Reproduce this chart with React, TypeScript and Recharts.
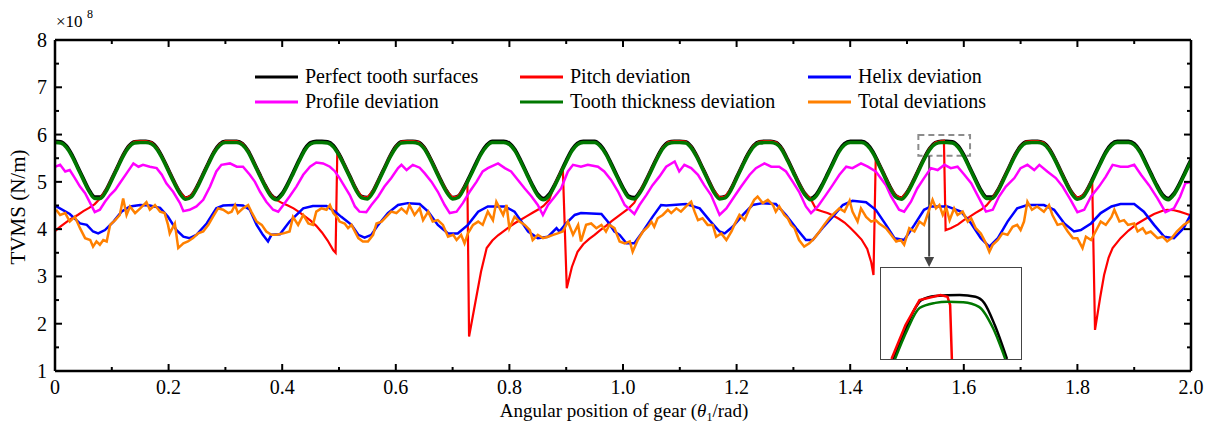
import React from 'react';
import { LineChart, Line, XAxis, YAxis, ReferenceArea, ReferenceLine, ReferenceDot } from 'recharts';

const FONT = '"Liberation Serif", "Times New Roman", serif';

// angular position grid shared by the two smooth curves (0 .. 2 rad, step 0.01)
const xGrid = Array.from({ length: 201 }, (_, i) => i / 100);

// TVMS, x 1e8 N/m
const perfectY = [
  5.86, 5.85, 5.76, 5.57, 5.32, 5.07, 4.83, 4.68, 4.68, 4.83,
  5.07, 5.32, 5.57, 5.76, 5.85, 5.86, 5.86, 5.83, 5.71, 5.5,
  5.25, 5.0, 4.78, 4.66, 4.71, 4.9, 5.15, 5.4, 5.64, 5.8,
  5.86, 5.86, 5.86, 5.81, 5.66, 5.42, 5.17, 4.93, 4.73, 4.65,
  4.76, 4.97, 5.22, 5.47, 5.7, 5.83, 5.86, 5.86, 5.85, 5.77,
  5.59, 5.35, 5.1, 4.85, 4.69, 4.67, 4.81, 5.05, 5.3, 5.55,
  5.75, 5.85, 5.86, 5.86, 5.84, 5.73, 5.52, 5.27, 5.02, 4.8,
  4.67, 4.7, 4.88, 5.12, 5.37, 5.61, 5.78, 5.86, 5.86, 5.86,
  5.82, 5.68, 5.45, 5.2, 4.95, 4.74, 4.65, 4.74, 4.95, 5.2,
  5.45, 5.68, 5.82, 5.86, 5.86, 5.86, 5.78, 5.61, 5.37, 5.12,
  4.88, 4.7, 4.67, 4.8, 5.02, 5.27, 5.52, 5.73, 5.84, 5.86,
  5.86, 5.85, 5.75, 5.55, 5.3, 5.05, 4.81, 4.67, 4.69, 4.85,
  5.1, 5.35, 5.59, 5.77, 5.85, 5.86, 5.86, 5.83, 5.7, 5.47,
  5.22, 4.97, 4.76, 4.65, 4.73, 4.93, 5.17, 5.42, 5.66, 5.81,
  5.86, 5.86, 5.86, 5.8, 5.64, 5.4, 5.15, 4.9, 4.71, 4.66,
  4.78, 5.0, 5.25, 5.5, 5.71, 5.83, 5.86, 5.86, 5.85, 5.76,
  5.57, 5.32, 5.07, 4.83, 4.68, 4.68, 4.83, 5.07, 5.32, 5.57,
  5.76, 5.85, 5.86, 5.86, 5.83, 5.71, 5.5, 5.25, 5.0, 4.78,
  4.66, 4.71, 4.9, 5.15, 5.4, 5.64, 5.8, 5.86, 5.86, 5.86,
  5.81, 5.66, 5.42, 5.17, 4.93, 4.73, 4.65, 4.76, 4.97, 5.22,
  5.47,
];

const thicknessY = [
  5.83, 5.82, 5.73, 5.54, 5.29, 5.04, 4.8, 4.65, 4.65, 4.8,
  5.04, 5.29, 5.54, 5.73, 5.82, 5.83, 5.83, 5.8, 5.68, 5.47,
  5.22, 4.97, 4.75, 4.63, 4.68, 4.87, 5.12, 5.37, 5.61, 5.77,
  5.83, 5.83, 5.83, 5.78, 5.63, 5.39, 5.14, 4.9, 4.7, 4.62,
  4.73, 4.94, 5.19, 5.44, 5.67, 5.8, 5.83, 5.83, 5.82, 5.74,
  5.56, 5.32, 5.07, 4.82, 4.66, 4.64, 4.78, 5.02, 5.27, 5.52,
  5.72, 5.82, 5.83, 5.83, 5.81, 5.7, 5.49, 5.24, 4.99, 4.77,
  4.64, 4.67, 4.85, 5.09, 5.34, 5.58, 5.75, 5.83, 5.83, 5.83,
  5.79, 5.65, 5.42, 5.17, 4.92, 4.71, 4.62, 4.71, 4.92, 5.17,
  5.42, 5.65, 5.79, 5.83, 5.83, 5.83, 5.75, 5.58, 5.34, 5.09,
  4.85, 4.67, 4.64, 4.77, 4.99, 5.24, 5.49, 5.7, 5.81, 5.83,
  5.83, 5.82, 5.72, 5.52, 5.27, 5.02, 4.78, 4.64, 4.66, 4.82,
  5.07, 5.32, 5.56, 5.74, 5.82, 5.83, 5.83, 5.8, 5.67, 5.44,
  5.19, 4.94, 4.73, 4.62, 4.7, 4.9, 5.14, 5.39, 5.63, 5.78,
  5.83, 5.83, 5.83, 5.77, 5.61, 5.37, 5.12, 4.87, 4.68, 4.63,
  4.75, 4.97, 5.22, 5.47, 5.68, 5.8, 5.83, 5.83, 5.82, 5.73,
  5.54, 5.29, 5.04, 4.8, 4.65, 4.65, 4.8, 5.04, 5.29, 5.54,
  5.73, 5.82, 5.83, 5.83, 5.8, 5.68, 5.47, 5.22, 4.97, 4.75,
  4.63, 4.68, 4.87, 5.12, 5.37, 5.61, 5.77, 5.83, 5.83, 5.83,
  5.78, 5.63, 5.39, 5.14, 4.9, 4.7, 4.62, 4.73, 4.94, 5.19,
  5.44,
];

const pitch: [number, number][] = [
  [0, 3.96], [0.01, 4.06], [0.02, 4.15], [0.03, 4.23], [0.04, 4.3], [0.05, 4.38], [0.06, 4.45], [0.07, 4.53], [0.08, 4.66], [0.09, 4.83],
  [0.1, 5.07], [0.11, 5.32], [0.12, 5.57], [0.13, 5.76], [0.14, 5.85], [0.15, 5.86], [0.16, 5.86], [0.17, 5.83], [0.18, 5.71], [0.19, 5.5],
  [0.2, 5.25], [0.21, 5.0], [0.22, 4.78], [0.23, 4.66], [0.24, 4.71], [0.25, 4.9], [0.26, 5.15], [0.27, 5.4], [0.28, 5.64], [0.29, 5.8],
  [0.3, 5.86], [0.31, 5.86], [0.32, 5.86], [0.33, 5.81], [0.34, 5.66], [0.35, 5.42], [0.36, 5.17], [0.37, 4.93], [0.38, 4.73], [0.39, 4.62],
  [0.4, 4.55], [0.41, 4.5], [0.42, 4.44], [0.43, 4.36], [0.44, 4.27], [0.45, 4.18], [0.46, 4.07], [0.47, 3.93], [0.48, 3.76], [0.49, 3.55],
  [0.494, 3.5], [0.497, 5.64], [0.5, 5.59], [0.51, 5.35], [0.52, 5.1], [0.53, 4.85], [0.54, 4.69], [0.55, 4.67], [0.56, 4.81], [0.57, 5.05],
  [0.58, 5.3], [0.59, 5.55], [0.6, 5.75], [0.61, 5.85], [0.62, 5.86], [0.63, 5.86], [0.64, 5.84], [0.65, 5.73], [0.66, 5.52], [0.67, 5.27],
  [0.68, 5.02], [0.69, 4.8], [0.7, 4.67], [0.71, 4.7], [0.72, 4.88], [0.726, 5.02], [0.729, 1.73], [0.74, 2.45], [0.75, 3.1], [0.76, 3.6],
  [0.77, 3.76], [0.78, 3.87], [0.79, 3.96], [0.8, 4.05], [0.81, 4.13], [0.82, 4.2], [0.83, 4.27], [0.84, 4.34], [0.85, 4.41], [0.86, 4.49],
  [0.87, 4.62], [0.88, 4.95], [0.89, 5.2], [0.894, 5.3], [0.901, 2.75], [0.91, 3.2], [0.92, 3.52], [0.93, 3.68], [0.94, 3.79], [0.95, 3.88],
  [0.96, 3.98], [0.97, 4.07], [0.98, 4.17], [0.99, 4.26], [1.0, 4.35], [1.01, 4.44], [1.02, 4.56], [1.03, 4.8], [1.04, 5.02], [1.05, 5.27],
  [1.06, 5.52], [1.07, 5.73], [1.08, 5.84], [1.09, 5.86], [1.1, 5.86], [1.11, 5.85], [1.12, 5.75], [1.13, 5.55], [1.14, 5.3], [1.15, 5.05],
  [1.16, 4.81], [1.17, 4.67], [1.18, 4.69], [1.19, 4.85], [1.2, 5.1], [1.21, 5.35], [1.22, 5.59], [1.23, 5.77], [1.24, 5.85], [1.25, 5.86],
  [1.26, 5.86], [1.27, 5.83], [1.28, 5.7], [1.29, 5.47], [1.3, 5.22], [1.31, 4.97], [1.32, 4.76], [1.33, 4.65], [1.34, 4.42], [1.35, 4.38],
  [1.36, 4.34], [1.37, 4.29], [1.38, 4.22], [1.39, 4.14], [1.4, 4.03], [1.41, 3.91], [1.42, 3.78], [1.43, 3.58], [1.437, 3.3], [1.441, 3.03],
  [1.445, 5.52], [1.45, 5.4], [1.46, 5.15], [1.47, 4.9], [1.48, 4.71], [1.49, 4.66], [1.5, 4.78], [1.51, 5.0], [1.52, 5.25], [1.53, 5.5],
  [1.54, 5.71], [1.55, 5.83], [1.56, 5.86], [1.565, 5.87], [1.568, 3.98], [1.577, 4.02], [1.59, 4.1], [1.6, 4.19], [1.61, 4.26], [1.62, 4.34],
  [1.63, 4.41], [1.64, 4.5], [1.648, 4.62], [1.66, 4.83], [1.67, 5.07], [1.68, 5.32], [1.69, 5.57], [1.7, 5.76], [1.71, 5.85], [1.72, 5.86],
  [1.73, 5.86], [1.74, 5.83], [1.75, 5.71], [1.76, 5.5], [1.77, 5.25], [1.78, 5.0], [1.79, 4.78], [1.8, 4.66], [1.81, 4.71], [1.82, 4.9],
  [1.826, 5.05], [1.831, 1.87], [1.84, 2.55], [1.847, 3.03], [1.855, 3.4], [1.862, 3.6], [1.87, 3.72], [1.876, 3.81], [1.89, 3.97], [1.906, 4.12],
  [1.92, 4.22], [1.935, 4.32], [1.95, 4.39], [1.958, 4.41], [1.97, 4.4], [1.98, 4.37], [1.99, 4.33], [2.0, 4.29],
];

const helix: [number, number][] = [
  [0, 4.5], [0.026, 4.32], [0.044, 4.12], [0.056, 4.09], [0.067, 3.95], [0.076, 3.91], [0.088, 3.98], [0.103, 4.16], [0.117, 4.37], [0.132, 4.48],
  [0.15, 4.51], [0.167, 4.5], [0.185, 4.45], [0.199, 4.26], [0.214, 3.98], [0.226, 3.84], [0.237, 3.81], [0.249, 3.88], [0.267, 4.12], [0.284, 4.44],
  [0.296, 4.5], [0.315, 4.51], [0.331, 4.5], [0.343, 4.41], [0.355, 4.09], [0.366, 3.88], [0.375, 3.74], [0.381, 3.88], [0.396, 3.89], [0.413, 4.16],
  [0.437, 4.44], [0.454, 4.49], [0.478, 4.49], [0.494, 4.36], [0.504, 4.26], [0.522, 4.09], [0.534, 3.88], [0.545, 3.82], [0.557, 3.88], [0.569, 4.09],
  [0.586, 4.34], [0.604, 4.51], [0.621, 4.55], [0.642, 4.53], [0.657, 4.37], [0.674, 4.09], [0.692, 3.91], [0.709, 3.91], [0.727, 4.09], [0.745, 4.37],
  [0.762, 4.48], [0.792, 4.48], [0.809, 4.37], [0.821, 4.16], [0.833, 3.95], [0.85, 3.81], [0.868, 3.84], [0.883, 4.02], [0.888, 3.95], [0.9, 4.12],
  [0.915, 4.3], [0.926, 4.34], [0.962, 4.32], [0.973, 4.16], [0.985, 3.95], [0.994, 3.88], [1.006, 3.7], [1.02, 3.7], [1.035, 3.95], [1.052, 4.26],
  [1.067, 4.51], [1.076, 4.5], [1.111, 4.53], [1.135, 4.44], [1.152, 4.19], [1.17, 3.95], [1.179, 3.91], [1.193, 4.05], [1.211, 4.3], [1.228, 4.51],
  [1.246, 4.55], [1.269, 4.53], [1.287, 4.3], [1.305, 4.02], [1.322, 3.77], [1.334, 3.77], [1.351, 4.02], [1.369, 4.26], [1.387, 4.51], [1.404, 4.6],
  [1.428, 4.57], [1.445, 4.41], [1.463, 4.09], [1.478, 3.81], [1.495, 3.77], [1.513, 4.09], [1.53, 4.41], [1.542, 4.48], [1.571, 4.48], [1.595, 4.37],
  [1.613, 4.12], [1.63, 3.81], [1.645, 3.63], [1.66, 3.81], [1.677, 4.16], [1.694, 4.44], [1.712, 4.51], [1.741, 4.51], [1.759, 4.41], [1.777, 4.12],
  [1.794, 3.95], [1.806, 3.98], [1.824, 4.12], [1.841, 4.34], [1.86, 4.48], [1.876, 4.53], [1.9, 4.53], [1.917, 4.37], [1.935, 4.09], [1.953, 3.84],
  [1.97, 3.81], [1.987, 4.02], [2.0, 4.32],
];

const profile: [number, number][] = [
  [0, 5.32], [0.009, 5.36], [0.018, 5.22], [0.026, 5.25], [0.035, 5.08], [0.044, 4.9], [0.053, 4.76], [0.062, 4.55], [0.07, 4.36], [0.079, 4.41],
  [0.088, 4.58], [0.097, 4.72], [0.106, 4.83], [0.114, 4.97], [0.126, 5.18], [0.138, 5.39], [0.147, 5.32], [0.155, 5.36], [0.167, 5.32], [0.179, 5.29],
  [0.188, 5.15], [0.196, 4.97], [0.208, 4.79], [0.22, 4.55], [0.226, 4.38], [0.237, 4.41], [0.249, 4.48], [0.261, 4.62], [0.273, 4.9], [0.284, 5.22],
  [0.293, 5.36], [0.308, 5.39], [0.32, 5.32], [0.331, 5.32], [0.343, 5.15], [0.352, 5.0], [0.361, 4.79], [0.372, 4.58], [0.384, 4.41], [0.393, 4.37],
  [0.402, 4.51], [0.413, 4.69], [0.425, 4.9], [0.437, 5.15], [0.449, 5.32], [0.46, 5.41], [0.472, 5.39], [0.484, 5.32], [0.493, 5.22], [0.501, 5.08],
  [0.51, 4.9], [0.519, 4.72], [0.528, 4.48], [0.536, 4.37], [0.548, 4.36], [0.557, 4.51], [0.569, 4.69], [0.58, 4.9], [0.592, 5.08], [0.604, 5.29],
  [0.61, 5.36], [0.619, 5.25], [0.63, 5.36], [0.642, 5.3], [0.651, 5.18], [0.663, 5.0], [0.674, 4.79], [0.686, 4.51], [0.695, 4.34], [0.707, 4.37],
  [0.718, 4.55], [0.73, 4.79], [0.742, 5.0], [0.753, 5.22], [0.762, 5.29], [0.78, 5.39], [0.792, 5.29], [0.803, 5.22], [0.815, 5.04], [0.827, 4.86],
  [0.839, 4.69], [0.85, 4.51], [0.859, 4.3], [0.868, 4.51], [0.88, 4.69], [0.891, 4.86], [0.903, 5.22], [0.912, 5.36], [0.926, 5.32], [0.938, 5.36],
  [0.956, 5.32], [0.967, 5.22], [0.979, 5.04], [0.991, 4.8], [1.003, 4.51], [1.02, 4.32], [1.029, 4.51], [1.041, 4.72], [1.052, 4.93], [1.064, 5.11],
  [1.076, 5.32], [1.091, 5.43], [1.099, 5.22], [1.108, 5.36], [1.12, 5.29], [1.132, 5.15], [1.143, 4.93], [1.155, 4.72], [1.17, 4.3], [1.182, 4.44],
  [1.196, 4.69], [1.208, 4.9], [1.223, 5.15], [1.234, 5.29], [1.249, 5.39], [1.261, 5.32], [1.275, 5.32], [1.287, 5.22], [1.299, 5.0], [1.31, 4.79],
  [1.322, 4.48], [1.331, 4.34], [1.343, 4.48], [1.357, 4.72], [1.369, 4.93], [1.381, 5.15], [1.393, 5.32], [1.404, 5.29], [1.419, 5.39], [1.431, 5.32],
  [1.445, 5.22], [1.463, 4.93], [1.472, 4.69], [1.486, 4.41], [1.495, 4.37], [1.507, 4.58], [1.518, 4.86], [1.53, 5.08], [1.542, 5.29], [1.554, 5.25],
  [1.566, 5.36], [1.577, 5.29], [1.589, 5.32], [1.601, 5.15], [1.613, 4.97], [1.624, 4.72], [1.639, 4.37], [1.651, 4.41], [1.662, 4.69], [1.674, 4.9],
  [1.689, 5.08], [1.7, 5.29], [1.712, 5.36], [1.724, 5.25], [1.733, 5.36], [1.747, 5.22], [1.762, 5.08], [1.774, 4.9], [1.788, 4.62], [1.8, 4.36],
  [1.812, 4.41], [1.824, 4.69], [1.838, 4.9], [1.85, 5.11], [1.862, 5.36], [1.876, 5.32], [1.889, 5.32], [1.9, 5.36], [1.912, 5.15], [1.926, 4.93],
  [1.941, 4.65], [1.955, 4.36], [1.97, 4.44], [1.981, 4.69], [1.99, 4.97], [2.0, 5.0],
];

const total: [number, number][] = [
  [0.002, 4.41], [0.009, 4.3], [0.018, 4.34], [0.026, 4.16], [0.035, 4.26], [0.044, 4.02], [0.053, 3.81], [0.062, 3.77], [0.067, 3.63], [0.073, 3.74],
  [0.079, 3.67], [0.085, 3.77], [0.091, 3.74], [0.097, 4.09], [0.106, 4.19], [0.114, 4.3], [0.12, 4.65], [0.126, 4.3], [0.132, 4.48], [0.141, 4.34],
  [0.15, 4.44], [0.161, 4.57], [0.167, 4.41], [0.176, 4.51], [0.185, 4.37], [0.193, 4.34], [0.199, 4.09], [0.202, 3.91], [0.211, 4.12], [0.217, 3.6],
  [0.226, 3.7], [0.234, 3.74], [0.243, 3.81], [0.252, 3.91], [0.261, 3.95], [0.27, 4.09], [0.278, 4.26], [0.287, 4.44], [0.296, 4.41], [0.305, 4.34],
  [0.311, 4.37], [0.317, 4.51], [0.322, 4.34], [0.331, 4.44], [0.34, 4.51], [0.346, 4.36], [0.355, 4.16], [0.364, 4.09], [0.372, 3.95], [0.381, 3.88],
  [0.39, 3.88], [0.402, 3.91], [0.413, 3.95], [0.419, 4.26], [0.428, 4.09], [0.437, 4.3], [0.446, 4.12], [0.454, 4.09], [0.46, 4.37], [0.469, 4.44],
  [0.478, 4.41], [0.484, 4.51], [0.49, 4.34], [0.498, 4.23], [0.501, 4.16], [0.51, 4.12], [0.516, 4.02], [0.522, 4.09], [0.534, 3.81], [0.542, 3.74],
  [0.551, 3.74], [0.56, 3.88], [0.566, 4.12], [0.575, 4.16], [0.583, 4.26], [0.592, 4.37], [0.601, 4.34], [0.61, 4.44], [0.619, 4.34], [0.624, 4.51],
  [0.633, 4.3], [0.642, 4.44], [0.648, 4.19], [0.657, 4.37], [0.665, 4.16], [0.674, 4.19], [0.683, 4.09], [0.692, 3.84], [0.701, 3.88], [0.707, 3.77],
  [0.715, 3.88], [0.721, 3.7], [0.727, 3.91], [0.736, 4.09], [0.745, 4.16], [0.753, 4.09], [0.762, 4.37], [0.771, 4.19], [0.777, 4.58], [0.783, 4.44],
  [0.789, 4.3], [0.795, 4.51], [0.8, 4.02], [0.809, 4.26], [0.818, 4.16], [0.827, 4.09], [0.836, 3.98], [0.841, 3.77], [0.85, 3.88], [0.859, 3.81],
  [0.868, 3.84], [0.877, 3.88], [0.885, 3.91], [0.894, 3.95], [0.903, 4.16], [0.912, 3.88], [0.921, 4.09], [0.926, 3.74], [0.935, 4.09], [0.944, 4.12],
  [0.953, 4.02], [0.962, 4.09], [0.97, 3.95], [0.976, 4.09], [0.985, 4.02], [0.994, 3.74], [1.003, 3.7], [1.012, 3.74], [1.017, 3.52], [1.026, 3.77],
  [1.035, 3.95], [1.044, 4.05], [1.05, 4.16], [1.055, 4.05], [1.061, 4.23], [1.07, 4.3], [1.079, 4.41], [1.085, 4.34], [1.094, 4.44], [1.102, 4.37],
  [1.111, 4.48], [1.12, 4.58], [1.126, 4.37], [1.132, 4.19], [1.14, 4.23], [1.149, 4.09], [1.158, 4.09], [1.164, 3.84], [1.173, 3.91], [1.182, 3.77],
  [1.191, 3.95], [1.196, 4.09], [1.205, 4.3], [1.214, 4.19], [1.223, 4.44], [1.231, 4.62], [1.237, 4.69], [1.246, 4.55], [1.255, 4.62], [1.264, 4.51],
  [1.269, 4.37], [1.275, 4.48], [1.284, 4.3], [1.29, 4.23], [1.296, 4.09], [1.302, 4.02], [1.31, 3.77], [1.319, 3.63], [1.328, 3.7], [1.337, 3.81],
  [1.346, 3.95], [1.354, 4.09], [1.363, 4.23], [1.372, 4.34], [1.381, 4.44], [1.39, 4.37], [1.399, 4.6], [1.404, 4.37], [1.413, 4.16], [1.419, 4.44],
  [1.428, 4.26], [1.437, 4.16], [1.445, 4.19], [1.451, 4.12], [1.463, 4.02], [1.472, 3.88], [1.481, 3.74], [1.489, 3.77], [1.495, 3.67], [1.504, 4.02],
  [1.513, 3.95], [1.522, 4.16], [1.53, 4.09], [1.539, 4.41], [1.545, 4.62], [1.551, 4.44], [1.557, 4.51], [1.563, 4.3], [1.569, 4.46], [1.575, 4.19],
  [1.583, 4.44], [1.589, 4.3], [1.598, 4.37], [1.607, 4.16], [1.613, 4.23], [1.621, 4.02], [1.63, 3.91], [1.639, 3.7], [1.645, 3.52], [1.651, 3.67],
  [1.66, 3.77], [1.668, 3.91], [1.677, 3.88], [1.686, 4.05], [1.694, 4.09], [1.7, 3.98], [1.706, 4.16], [1.712, 4.58], [1.72, 4.41], [1.729, 4.48],
  [1.741, 4.37], [1.75, 4.51], [1.756, 4.3], [1.765, 4.09], [1.774, 4.12], [1.783, 3.95], [1.792, 3.81], [1.8, 3.81], [1.809, 3.6], [1.815, 3.84],
  [1.824, 3.77], [1.832, 3.95], [1.841, 4.16], [1.85, 4.09], [1.86, 4.26], [1.865, 4.41], [1.874, 4.16], [1.882, 4.19], [1.889, 4.09], [1.9, 4.12],
  [1.906, 3.95], [1.915, 4.02], [1.921, 3.91], [1.929, 3.95], [1.941, 3.81], [1.95, 3.84], [1.958, 3.74], [1.966, 3.81], [1.975, 3.95], [1.987, 4.09],
  [2.0, 4.19],
];

// zoomed view of the tooth peak near 1.57 rad
const insetPerfect: [number, number][] = [
  [1.537, 5.6], [1.544, 5.696], [1.549, 5.762], [1.553, 5.794], [1.561, 5.808], [1.575, 5.811], [1.584, 5.805], [1.589, 5.785], [1.595, 5.712], [1.602, 5.6],
];
const insetThickness: [number, number][] = [
  [1.538, 5.6], [1.545, 5.696], [1.552, 5.768], [1.561, 5.785], [1.568, 5.789], [1.577, 5.787], [1.586, 5.772], [1.594, 5.702], [1.601, 5.6],
];
const insetPitch: [number, number][] = [
  [1.536, 5.6], [1.544, 5.712], [1.552, 5.794], [1.564, 5.811], [1.568, 5.805], [1.5695, 5.778], [1.5705, 5.6],
];

const xTicks = [0, 0.1, 0.2, 0.3, 0.4, 0.5, 0.6, 0.7, 0.8, 0.9, 1.0, 1.1, 1.2, 1.3, 1.4, 1.5, 1.6, 1.7, 1.8, 1.9, 2.0];
const yTicks = [1, 1.5, 2, 2.5, 3, 3.5, 4, 4.5, 5, 5.5, 6, 6.5, 7, 7.5, 8];

const seriesNames = ['Perfect tooth surfaces', 'Pitch deviation', 'Helix deviation', 'Profile deviation', 'Tooth thickness deviation', 'Total deviations'];
const seriesColors = ['#000000', '#ff0000', '#0000ff', '#ff00ff', '#007800', '#ff8000'];

const toPts = (arr: [number, number][]) => arr.map(([x, y]) => ({ x, y }));
const gridPts = (ys: number[]) => xGrid.map((x, i) => ({ x, y: ys[i] }));

const fmtX = (v: number) => (v === 0 ? '0' : v.toFixed(1));
const isMajorX = (v: number) => Math.round(v * 10) % 2 === 0;
const isMajorY = (v: number) => Math.abs(v - Math.round(v)) < 1e-6;

function BottomTick({ x, y, payload }: any) {
  const v = payload.value;
  const major = isMajorX(v);
  return (
    <g>
      <line x1={x} x2={x} y1={y} y2={y - (major ? 7 : 4)} stroke="#000" strokeWidth={2} />
      {major && (
        <text x={x} y={y + 23} textAnchor="middle" fontSize={20} fontFamily={FONT} fill="#000">
          {fmtX(v)}
        </text>
      )}
    </g>
  );
}

function TopTick({ x, y, payload }: any) {
  const major = isMajorX(payload.value);
  return <line x1={x} x2={x} y1={y} y2={y + (major ? 7 : 4)} stroke="#000" strokeWidth={2} />;
}

function LeftTick({ x, y, payload }: any) {
  const v = payload.value;
  const major = isMajorY(v);
  return (
    <g>
      <line x1={x} x2={x + (major ? 7 : 4)} y1={y} y2={y} stroke="#000" strokeWidth={2} />
      {major && (
        <text x={x - 8} y={y + 7} textAnchor="end" fontSize={20} fontFamily={FONT} fill="#000">
          {v}
        </text>
      )}
    </g>
  );
}

function RightTick({ x, y, payload }: any) {
  const major = isMajorY(payload.value);
  return <line x1={x} x2={x - (major ? 7 : 4)} y1={y} y2={y} stroke="#000" strokeWidth={2} />;
}

const ArrowHead = ({ cx, cy }: any) => (
  <polygon points={`${cx - 5},${cy - 10} ${cx + 5},${cy - 10} ${cx},${cy}`} fill="#444" />
);

const legendSlots = [
  { x: 255, y: 77 }, { x: 520, y: 77 }, { x: 808, y: 77 },
  { x: 255, y: 102 }, { x: 520, y: 102 }, { x: 808, y: 102 },
];

export default function App() {
  const axisLine = { stroke: '#000', strokeWidth: 2.5 };
  return (
    <div style={{ position: 'absolute', left: 0, top: 0, width: 1215, height: 427, background: '#fff' }}>
      <LineChart width={1215} height={427} margin={{ top: 30, right: 14, bottom: 26, left: 10 }}>
        <XAxis
          xAxisId={0}
          type="number"
          dataKey="x"
          domain={[0, 2]}
          ticks={xTicks}
          interval={0}
          allowDataOverflow
          height={30}
          tickSize={0}
          tickMargin={0}
          tickLine={false}
          axisLine={axisLine}
          tick={<BottomTick />}
        />
        <XAxis
          xAxisId="top"
          orientation="top"
          type="number"
          dataKey="x"
          domain={[0, 2]}
          ticks={xTicks}
          interval={0}
          allowDataOverflow
          height={10}
          tickSize={0}
          tickMargin={0}
          tickLine={false}
          axisLine={axisLine}
          tick={<TopTick />}
        />
        <YAxis
          yAxisId={0}
          type="number"
          domain={[1, 8]}
          ticks={yTicks}
          interval={0}
          allowDataOverflow
          width={45}
          tickSize={0}
          tickMargin={0}
          tickLine={false}
          axisLine={axisLine}
          tick={<LeftTick />}
        />
        <YAxis
          yAxisId="right"
          orientation="right"
          type="number"
          domain={[1, 8]}
          ticks={yTicks}
          interval={0}
          allowDataOverflow
          width={10}
          tickSize={0}
          tickMargin={0}
          tickLine={false}
          axisLine={axisLine}
          tick={<RightTick />}
        />
        <ReferenceArea x1={1.52} x2={1.611} y1={5.55} y2={5.99} fill="none" fillOpacity={0} stroke="#8c8c8c" strokeWidth={2} strokeDasharray="6 4" />
        <ReferenceLine segment={[{ x: 1.539, y: 5.55 }, { x: 1.539, y: 3.42 }]} stroke="#444" strokeWidth={2} />
        <ReferenceDot x={1.539} y={3.2} shape={<ArrowHead />} />

        <Line data={gridPts(perfectY)} dataKey="y" type="monotone" stroke={seriesColors[0]} strokeWidth={3.5} dot={false} activeDot={false} isAnimationActive={false} />
        <Line data={toPts(pitch)} dataKey="y" type="linear" stroke={seriesColors[1]} strokeWidth={2.2} dot={false} activeDot={false} isAnimationActive={false} />
        <Line data={toPts(helix)} dataKey="y" type="linear" stroke={seriesColors[2]} strokeWidth={2.5} dot={false} activeDot={false} isAnimationActive={false} />
        <Line data={toPts(profile)} dataKey="y" type="linear" stroke={seriesColors[3]} strokeWidth={2.5} dot={false} activeDot={false} isAnimationActive={false} />
        <Line data={gridPts(thicknessY)} dataKey="y" type="monotone" stroke={seriesColors[4]} strokeWidth={3.5} dot={false} activeDot={false} isAnimationActive={false} />
        <Line data={toPts(total)} dataKey="y" type="linear" stroke={seriesColors[5]} strokeWidth={2.5} dot={false} activeDot={false} isAnimationActive={false} />
      </LineChart>

      <svg width={1215} height={427} style={{ position: 'absolute', left: 0, top: 0, pointerEvents: 'none' }} fontFamily={FONT}>
        <text x={56} y={27} fontSize={17} fill="#000">×10</text>
        <text x={87} y={18} fontSize={12} fill="#000">8</text>
        <text transform="translate(25,207) rotate(-90)" textAnchor="middle" fontSize={21} fill="#000">TVMS (N/m)</text>
        <text x={624} y={417} textAnchor="middle" fontSize={19} fill="#000">
          Angular position of gear (<tspan fontStyle="italic">θ</tspan>
          <tspan dy={4} fontSize={12}>1</tspan>
          <tspan dy={-4}>/rad)</tspan>
        </text>
        {seriesNames.map((name, i) => {
          const s = legendSlots[i];
          return (
            <g key={name}>
              <line x1={s.x} x2={s.x + 43} y1={s.y} y2={s.y} stroke={seriesColors[i]} strokeWidth={3} />
              <text x={s.x + 50} y={s.y + 6} fontSize={20} fill="#000">{name}</text>
            </g>
          );
        })}
      </svg>

      <div style={{ position: 'absolute', left: 880, top: 267, width: 142, height: 93, border: '1.5px solid #444', boxSizing: 'border-box', background: '#fff' }} />
      <div style={{ position: 'absolute', left: 881, top: 268 }}>
        <LineChart width={140} height={91} margin={{ top: 0, right: 0, bottom: 0, left: 0 }}>
          <XAxis type="number" dataKey="x" domain={[1.53, 1.61]} hide allowDataOverflow />
          <YAxis type="number" domain={[5.6, 5.9]} hide allowDataOverflow />
          <Line data={toPts(insetPerfect)} dataKey="y" type="monotone" stroke={seriesColors[0]} strokeWidth={2.5} dot={false} activeDot={false} isAnimationActive={false} />
          <Line data={toPts(insetPitch)} dataKey="y" type="linear" stroke={seriesColors[1]} strokeWidth={2.5} dot={false} activeDot={false} isAnimationActive={false} />
          <Line data={toPts(insetThickness)} dataKey="y" type="monotone" stroke={seriesColors[4]} strokeWidth={2.5} dot={false} activeDot={false} isAnimationActive={false} />
        </LineChart>
      </div>
    </div>
  );
}
